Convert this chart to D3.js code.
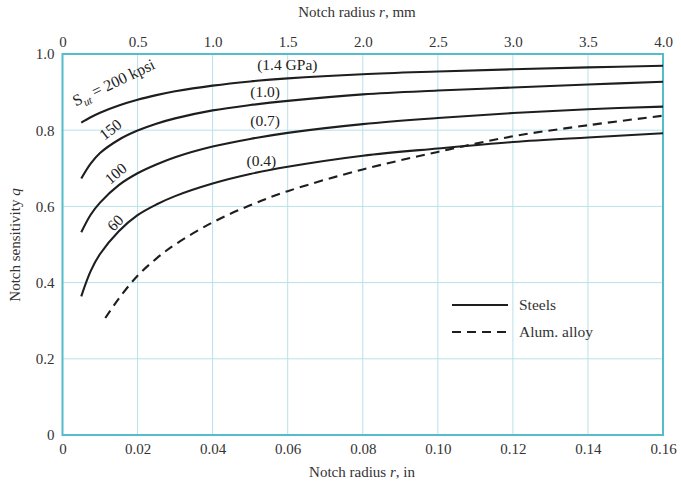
<!DOCTYPE html>
<html><head><meta charset="utf-8">
<script src="https://cdn.jsdelivr.net/npm/d3@7"></script>
<style>body{margin:0;background:#fff}svg{display:block}</style>
</head><body><svg id="c" width="681" height="489"></svg>
<script>
// Data
const radiusIn = [0.005, 0.0075, 0.01, 0.015, 0.02, 0.025, 0.03, 0.04, 0.05, 0.06, 0.08, 0.10, 0.12, 0.14, 0.16];
const steel200 = [0.820, 0.834, 0.846, 0.865, 0.880, 0.892, 0.902, 0.917, 0.928, 0.936, 0.947, 0.954, 0.960, 0.965, 0.969];
const steel150 = [0.673, 0.712, 0.740, 0.775, 0.799, 0.817, 0.831, 0.852, 0.866, 0.877, 0.894, 0.904, 0.912, 0.920, 0.927];
const steel100 = [0.532, 0.578, 0.610, 0.656, 0.687, 0.710, 0.729, 0.757, 0.777, 0.793, 0.816, 0.832, 0.845, 0.855, 0.862];
const steel60  = [0.364, 0.430, 0.475, 0.535, 0.577, 0.605, 0.627, 0.660, 0.685, 0.704, 0.733, 0.752, 0.769, 0.781, 0.792];
const alumRadius = [0.0114, 0.015, 0.02, 0.025, 0.03, 0.04, 0.05, 0.06, 0.08, 0.10, 0.12, 0.14, 0.16];
const alumQ      = [0.307, 0.358, 0.418, 0.463, 0.500, 0.558, 0.603, 0.640, 0.697, 0.743, 0.784, 0.813, 0.838];
const bottomTicks = [0, 0.02, 0.04, 0.06, 0.08, 0.10, 0.12, 0.14, 0.16];
const bottomTickLabels = ["0","0.02","0.04","0.06","0.08","0.10","0.12","0.14","0.16"];
const topTicks = [0, 0.5, 1.0, 1.5, 2.0, 2.5, 3.0, 3.5, 4.0];
const topTickLabels = ["0","0.5","1.0","1.5","2.0","2.5","3.0","3.5","4.0"];
const leftTicks = [0, 0.2, 0.4, 0.6, 0.8, 1.0];
const leftTickLabels = ["0","0.2","0.4","0.6","0.8","1.0"];
const curveLabels = ["(1.4 GPa)", "(1.0)", "(0.7)", "(0.4)"];
const sutLabels = ["150", "100", "60"];

const svg = d3.select("#c");
const L = 62.5, R = 663, T = 54, B = 435;
const font = "'Liberation Serif', 'Times New Roman', serif";
const x = d3.scaleLinear().domain([0, 0.16]).range([L, R]);
const xmm = d3.scaleLinear().domain([0, 4.0]).range([L, R]);
const y = d3.scaleLinear().domain([0, 1]).range([B, T]);

// grid
const g = svg.append("g");
g.selectAll("line.v").data(bottomTicks.slice(1, -1)).join("line")
  .attr("class","v")
  .attr("x1", d => x(d)).attr("x2", d => x(d)).attr("y1", T).attr("y2", B)
  .attr("stroke", "#b9e0ea").attr("stroke-width", 1);
g.selectAll("line.h").data(leftTicks.slice(1, -1)).join("line")
  .attr("class","h")
  .attr("y1", d => y(d)).attr("y2", d => y(d)).attr("x1", L).attr("x2", R)
  .attr("stroke", "#b9e0ea").attr("stroke-width", 1);

// axes (labels only)
const axB = d3.axisBottom(x).tickValues(bottomTicks).tickFormat((d,i) => bottomTickLabels[i]).tickSize(0).tickPadding(8);
const axT = d3.axisTop(xmm).tickValues(topTicks).tickFormat((d,i) => topTickLabels[i]).tickSize(0).tickPadding(7);
const axL = d3.axisLeft(y).tickValues(leftTicks).tickFormat((d,i) => leftTickLabels[i]).tickSize(0).tickPadding(8);
function style(sel){ sel.select(".domain").remove(); sel.selectAll("text").attr("font-family", font).attr("font-size", 15).attr("fill", "#333"); }
svg.append("g").attr("transform", `translate(0,${B})`).call(axB).call(style);
svg.append("g").attr("transform", `translate(0,${T})`).call(axT).call(style);
svg.append("g").attr("transform", `translate(${L},0)`).call(axL).call(style);

// frame
svg.append("rect").attr("x", L).attr("y", T).attr("width", R - L).attr("height", B - T)
  .attr("fill", "none").attr("stroke", "#55bccb").attr("stroke-width", 2);

// axis titles
svg.append("text").attr("x", 362).attr("y", 477).attr("text-anchor", "middle")
  .attr("font-family", font).attr("font-size", 15).attr("fill", "#333")
  .html("Notch radius <tspan font-style='italic'>r</tspan>, in");
svg.append("text").attr("x", 357).attr("y", 17).attr("text-anchor", "middle")
  .attr("font-family", font).attr("font-size", 15).attr("fill", "#333")
  .html("Notch radius <tspan font-style='italic'>r</tspan>, mm");
svg.append("text").attr("transform", "translate(20,245) rotate(-90)").attr("text-anchor", "middle")
  .attr("font-family", font).attr("font-size", 15).attr("fill", "#333")
  .html("Notch sensitivity <tspan font-style='italic'>q</tspan>");

// curves
const line = d3.line().x(d => x(d[0])).y(d => y(d[1])).curve(d3.curveCatmullRom.alpha(0.5));
const steels = [steel200, steel150, steel100, steel60];
svg.append("g").selectAll("path").data(steels).join("path")
  .attr("d", s => line(radiusIn.map((r, i) => [r, s[i]])))
  .attr("fill", "none").attr("stroke", "#1e1e1e").attr("stroke-width", 2.1);
svg.append("path").attr("d", line(alumRadius.map((r, i) => [r, alumQ[i]])))
  .attr("fill", "none").attr("stroke", "#1e1e1e").attr("stroke-width", 2.1).attr("stroke-dasharray", "9,6");

// curve labels
const lblPos = [[0.0599, 0.958], [0.0540, 0.888], [0.0540, 0.810], [0.0530, 0.705]];
svg.append("g").selectAll("text").data(curveLabels).join("text")
  .attr("x", (d,i) => x(lblPos[i][0])).attr("y", (d,i) => y(lblPos[i][1]))
  .attr("text-anchor", "middle").attr("font-family", font).attr("font-size", 15.5).attr("fill", "#222")
  .text(d => d);

svg.append("text").attr("transform", `translate(${x(0.0035)},${y(0.862)}) rotate(-25.5)`)
  .attr("font-family", font).attr("font-size", 16).attr("fill", "#222")
  .html("S<tspan font-size='11' dy='4' font-style='italic'>ut</tspan><tspan dy='-4'> = 200 kpsi</tspan>");
const sutPos = [[0.0112, 0.772, -38], [0.0127, 0.656, -40], [0.0136, 0.533, -45]];
svg.append("g").selectAll("text").data(sutLabels).join("text")
  .attr("transform", (d,i) => `translate(${x(sutPos[i][0])},${y(sutPos[i][1])}) rotate(${sutPos[i][2]})`)
  .attr("font-family", font).attr("font-size", 15.5).attr("fill", "#222")
  .text(d => d);

// legend
const lg = svg.append("g").attr("transform", "translate(452,305)");
lg.append("line").attr("x1", 0).attr("x2", 56).attr("y1", 0).attr("y2", 0).attr("stroke", "#1e1e1e").attr("stroke-width", 2);
lg.append("line").attr("x1", 0).attr("x2", 56).attr("y1", 27).attr("y2", 27).attr("stroke", "#1e1e1e").attr("stroke-width", 2).attr("stroke-dasharray", "9,6");
lg.append("text").attr("x", 67).attr("y", 5).attr("font-family", font).attr("font-size", 15.5).attr("fill", "#333").text("Steels");
lg.append("text").attr("x", 67).attr("y", 32).attr("font-family", font).attr("font-size", 15.5).attr("fill", "#333").text("Alum. alloy");
</script></body></html>
